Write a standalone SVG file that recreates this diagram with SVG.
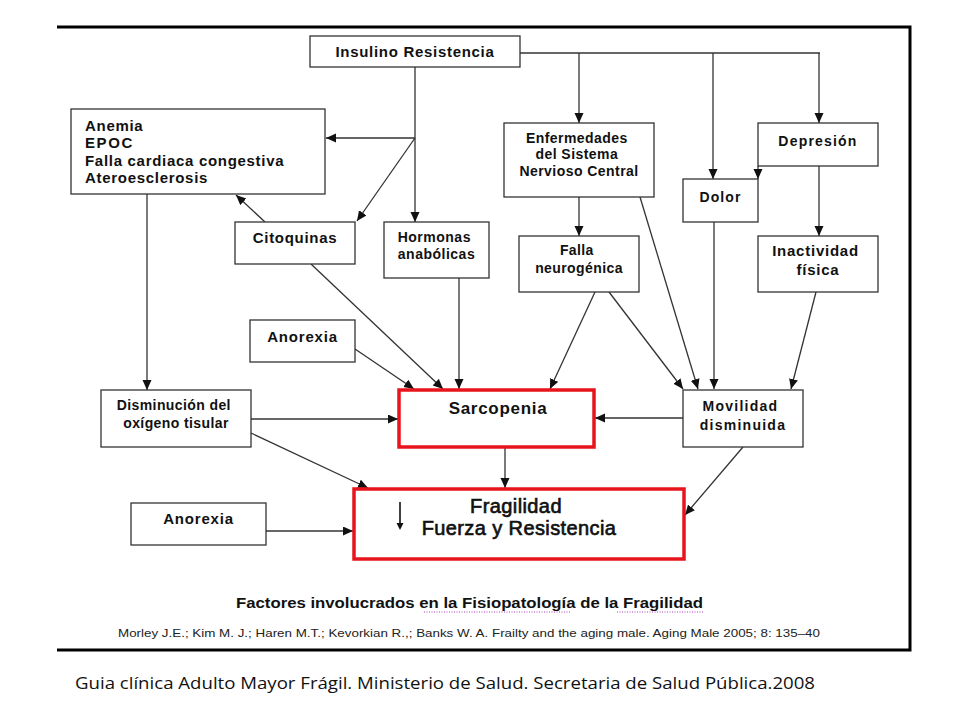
<svg xmlns="http://www.w3.org/2000/svg" width="960" height="720" viewBox="0 0 960 720">
<defs>
<marker id="ah" markerUnits="userSpaceOnUse" markerWidth="11" markerHeight="10" refX="10" refY="4.5" orient="auto">
<path d="M0,0 L10,4.5 L0,9 z" fill="#111"/>
</marker>
<style>
.box{fill:#fff;stroke:#333;stroke-width:1.3}
.red{fill:#fff;stroke:#e8141c;stroke-width:3.5}
.t{font-family:"Liberation Sans",Arial,sans-serif;font-weight:bold;fill:#111;text-anchor:middle}
.c line,.c polyline{stroke:#333;stroke-width:1.3;fill:none}
.a{marker-end:url(#ah)}
</style>
</defs>
<rect width="960" height="720" fill="#fff"/>
<g id="frame" stroke="#000" stroke-width="3" fill="none">
<polyline points="57,27 910,27 910,650 57,650"/>
</g>
<g class="c" id="connectors">
<polyline points="520,53 820,53"/>
<line class="a" x1="579" y1="53" x2="579" y2="123"/>
<line class="a" x1="713" y1="53" x2="713" y2="179"/>
<line class="a" x1="819" y1="53" x2="819" y2="123"/>
<line class="a" x1="415" y1="67" x2="415" y2="222"/>
<line class="a" x1="415" y1="138" x2="326" y2="138"/>
<line class="a" x1="415" y1="138" x2="357" y2="221"/>
<line class="a" x1="265" y1="222" x2="236" y2="195"/>
<line class="a" x1="147" y1="194" x2="147" y2="390"/>
<line class="a" x1="311" y1="264" x2="443" y2="389"/>
<line class="a" x1="459" y1="278" x2="459" y2="389"/>
<line class="a" x1="355" y1="349" x2="414" y2="389"/>
<line class="a" x1="251" y1="419" x2="398" y2="419"/>
<line class="a" x1="251" y1="433" x2="368" y2="488"/>
<line class="a" x1="266" y1="531" x2="353" y2="531"/>
<line class="a" x1="505" y1="447" x2="505" y2="488"/>
<line class="a" x1="683" y1="418" x2="595" y2="418"/>
<line class="a" x1="743" y1="447" x2="685" y2="515"/>
<line class="a" x1="579" y1="197" x2="579" y2="236"/>
<line class="a" x1="640" y1="197" x2="698" y2="389"/>
<line class="a" x1="595" y1="292" x2="550" y2="389"/>
<line class="a" x1="609" y1="292" x2="683" y2="389"/>
<line class="a" x1="714" y1="222" x2="714" y2="389"/>
<line class="a" x1="758" y1="166" x2="758" y2="179"/>
<line class="a" x1="819" y1="166" x2="819" y2="236"/>
<line class="a" x1="816" y1="292" x2="791" y2="389"/>
</g>
<g id="insulino">
<rect class="box" x="310" y="36" width="210" height="31"/>
<text class="t" x="415" y="57" font-size="15" letter-spacing="0.7">Insulino Resistencia</text>
</g>
<g id="anemia">
<rect class="box" x="71" y="109" width="254" height="85"/>
<text class="t" font-size="15" letter-spacing="0.7" style="text-anchor:start">
<tspan x="85" y="131">Anemia</tspan>
<tspan x="85" y="148" letter-spacing="1.6">EPOC</tspan>
<tspan x="85" y="166">Falla cardiaca congestiva</tspan>
<tspan x="85" y="183">Ateroesclerosis</tspan>
</text>
</g>
<g id="citoquinas">
<rect class="box" x="235" y="222" width="120" height="42"/>
<text class="t" x="295" y="243" font-size="15" letter-spacing="0.7">Citoquinas</text>
</g>
<g id="hormonas">
<rect class="box" x="384" y="222" width="105" height="56"/>
<text class="t" font-size="14" letter-spacing="0.5">
<tspan x="436.5" y="242">Hormonas</tspan>
<tspan x="436.5" y="259">anabólicas</tspan>
</text>
</g>
<g id="enfermedades">
<rect class="box" x="504" y="123" width="150" height="74"/>
<text class="t" font-size="14" letter-spacing="0.45">
<tspan x="579" y="143">Enfermedades</tspan>
<tspan x="579" y="159">del Sistema</tspan>
<tspan x="579" y="176">Nervioso Central</tspan>
</text>
</g>
<g id="depresion">
<rect class="box" x="758" y="123" width="120" height="43"/>
<text class="t" x="818" y="146" font-size="14" letter-spacing="1.2">Depresión</text>
</g>
<g id="dolor">
<rect class="box" x="683" y="179" width="75" height="43"/>
<text class="t" x="720.5" y="202" font-size="14" letter-spacing="1.1">Dolor</text>
</g>
<g id="falla">
<rect class="box" x="519" y="236" width="120" height="56"/>
<text class="t" font-size="14" letter-spacing="0.4">
<tspan x="579" y="255">Falla</tspan>
<tspan x="579" y="273">neurogénica</tspan>
</text>
</g>
<g id="inactividad">
<rect class="box" x="758" y="236" width="120" height="56"/>
<text class="t" font-size="15" letter-spacing="0.76">
<tspan x="818" y="256">Inactividad</tspan>
<tspan x="818" y="275">física</tspan>
</text>
</g>
<g id="anorexia1">
<rect class="box" x="250" y="320" width="105" height="42"/>
<text class="t" x="302.5" y="342" font-size="15" letter-spacing="0.8">Anorexia</text>
</g>
<g id="disminucion">
<rect class="box" x="101" y="390" width="150" height="57"/>
<text class="t" font-size="14" letter-spacing="0.4">
<tspan x="176" y="410">Disminución del</tspan>
<tspan x="176" y="428">oxígeno tisular</tspan>
</text>
</g>
<g id="sarcopenia">
<rect class="red" x="399" y="390" width="195" height="57"/>
<text class="t" x="498" y="414" font-size="17" letter-spacing="0.7">Sarcopenia</text>
</g>
<g id="movilidad">
<rect class="box" x="683" y="390" width="120" height="57"/>
<text class="t" font-size="14" letter-spacing="1.25">
<tspan x="743" y="411">Movilidad</tspan>
<tspan x="743" y="430">disminuida</tspan>
</text>
</g>
<g id="fragilidad">
<rect class="red" x="354" y="489" width="330" height="70"/>
<line x1="400" y1="502" x2="400" y2="524" stroke="#111" stroke-width="1.6"/>
<path d="M396.5,523 L403.5,523 L400,530 z" fill="#111"/>
<text class="t" font-size="20" letter-spacing="0.4" style="font-weight:normal" stroke="#111" stroke-width="0.65">
<tspan x="519" y="513">Fragilidad</tspan>
<tspan x="519" y="535">Fuerza y Resistencia</tspan>
</text>
</g>
<g id="anorexia2">
<rect class="box" x="131" y="503" width="135" height="42"/>
<text class="t" x="198.5" y="524" font-size="15" letter-spacing="0.8">Anorexia</text>
</g>
<g id="captions">
<text class="t" x="236" y="608" font-size="14" textLength="467" lengthAdjust="spacingAndGlyphs" style="text-anchor:start">Factores involucrados en la Fisiopatología de la Fragilidad</text>
<line x1="424" y1="612" x2="571" y2="612" stroke="#b040c0" stroke-width="1" stroke-dasharray="1,1.5"/>
<line x1="617" y1="612" x2="703" y2="612" stroke="#b040c0" stroke-width="1" stroke-dasharray="1,1.5"/>
<text x="118" y="637" font-family="Liberation Sans, Arial, sans-serif" font-size="11.5" fill="#222" textLength="702" lengthAdjust="spacingAndGlyphs">Morley J.E.; Kim M. J.; Haren M.T.; Kevorkian R.,; Banks W. A. Frailty and the aging male. Aging Male 2005; 8: 135–40</text>
<text x="75" y="689" font-family="Open Sans, Noto Sans, sans-serif" font-size="16" fill="#111" textLength="740" lengthAdjust="spacingAndGlyphs">Guia clínica Adulto Mayor Frágil. Ministerio de Salud. Secretaria de Salud Pública.2008</text>
</g>
</svg>
